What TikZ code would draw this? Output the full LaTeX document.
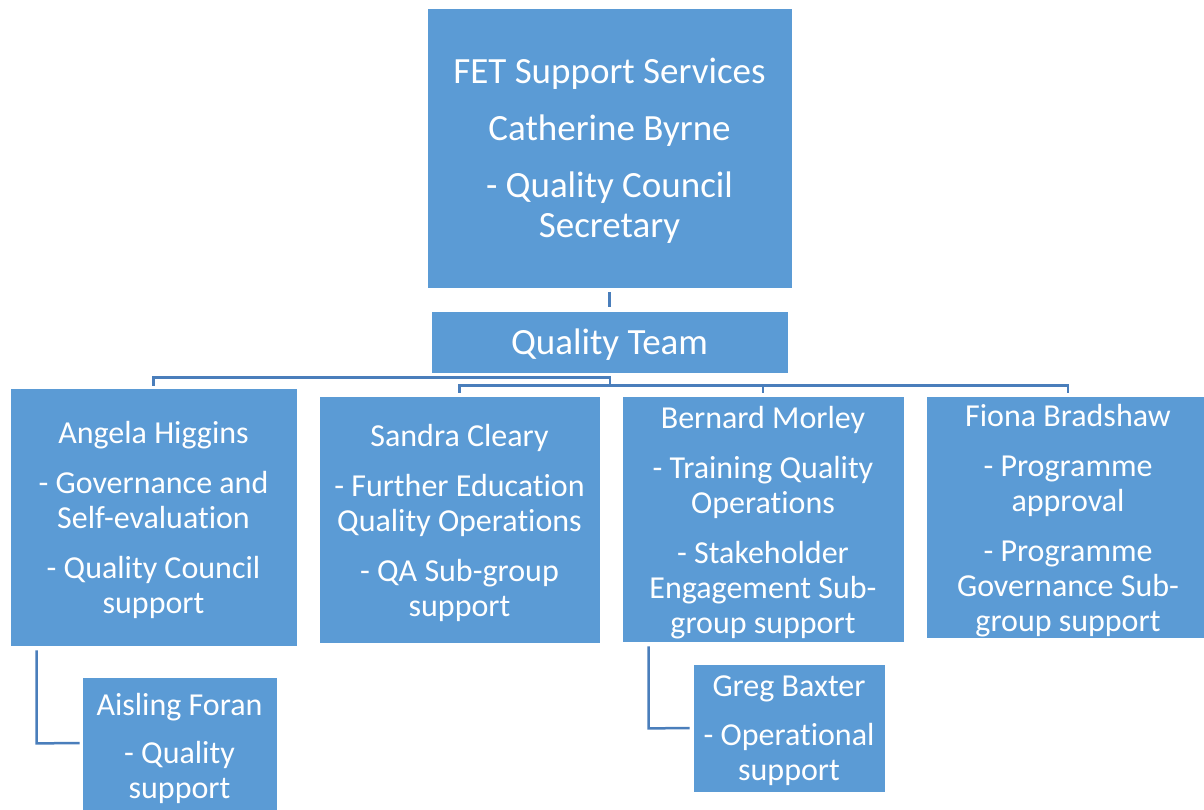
\documentclass[tikz,border=0pt]{standalone}
\usepackage{fontspec}
\setmainfont[Ligatures=NoCommon]{Carlito}
\usetikzlibrary{calc}
\definecolor{boxblue}{HTML}{5B9BD5}
\definecolor{lineblue}{HTML}{4A7EBB}
\tikzset{
  box/.style={fill=boxblue, draw=white, line width=0.8pt, inner sep=0pt},
  boxtext/.style={text=white, align=center, inner sep=0pt, font=\fontsize{32}{35}\selectfont, yshift=-3pt},
  bigtext/.style={boxtext, font=\fontsize{37}{40}\selectfont},
  conn/.style={draw=lineblue, line width=2.5pt}
}
\begin{document}
\begin{tikzpicture}[x=1pt,y=1pt]
\useasboundingbox (0,0) rectangle (1204,-809);
\node[box, minimum width=365, minimum height=280] (top) at (609.5,-148) {};
\node[bigtext] (topT) at (top.center)
  {FET Support Services\\[17pt]Catherine Byrne\\[17pt]- Quality Council\\Secretary};
\node[box, minimum width=357, minimum height=62] (qt) at (609.5,-342) {};
\node[bigtext] (qtT) at (qt.center) {Quality Team};
\node[box, minimum width=287, minimum height=258] (angela) at (153.5,-517) {};
\node[boxtext] (angelaT) at (angela.center)
  {Angela Higgins\\[15pt]- Governance and\\Self-evaluation\\[15pt]- Quality Council\\support};
\node[box, minimum width=281, minimum height=247] (sandra) at (459.5,-519.5) {};
\node[boxtext] (sandraT) at (sandra.center)
  {Sandra Cleary\\[15pt]- Further Education\\Quality Operations\\[15pt]- QA Sub-group\\support};
\node[box, minimum width=282, minimum height=246] (bernard) at (763,-519) {};
\node[boxtext, yshift=-1pt] (bernardT) at (bernard.center)
  {Bernard Morley\\[15pt]- Training Quality\\Operations\\[15pt]- Stakeholder\\Engagement Sub-\\group support};
\node[box, minimum width=284, minimum height=242] (fiona) at (1068,-517) {};
\node[boxtext, yshift=-1pt] (fionaT) at (fiona.center)
  {Fiona Bradshaw\\[15pt]- Programme\\approval\\[15pt]- Programme\\Governance Sub-\\group support};
\node[box, minimum width=195, minimum height=136] (aisling) at (179.5,-745) {};
\node[boxtext] (aislingT) at (aisling.center)
  {Aisling Foran\\[13pt]- Quality\\support};
\node[box, minimum width=192, minimum height=128] (greg) at (789,-728) {};
\node[boxtext] (gregT) at (greg.center)
  {Greg Baxter\\[14pt]- Operational\\support};
% connectors
\draw[conn] ($(top.south)+(0,-4)$) -- ($(qt.north)+(0,4)$);
\coordinate (j1) at ($(qt.south)+(0.5,-4)$);
\coordinate (j2) at ($(qt.south)+(0.5,-12)$);
\draw[conn] ($(angela.north)+(0,2)$) -- (angela.north |- j1) -- (j1) -- (j2);
\draw[conn] ($(sandra.north)+(0,3)$) -- (sandra.north |- j2) -- (fiona.north |- j2) -- ($(fiona.north)+(0,3)$);
\draw[conn] (bernard.north |- j2) -- ($(bernard.north)+(0,3)$);
\draw[conn] ($(angela.south west)+(27,-4)$) -- ($(angela.south west)+(27,-97)$) -- ($(aisling.west)+(-2,2)$);
\draw[conn] ($(bernard.south west)+(27,-4)$) -- ($(bernard.south west)+(27,-86)$) -- ($(greg.west)+(-3,0)$);
\end{tikzpicture}
\end{document}
